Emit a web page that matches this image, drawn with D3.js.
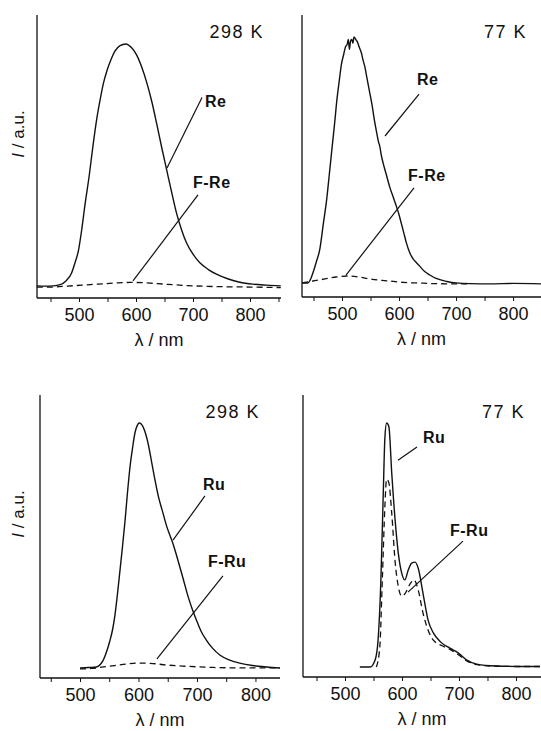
<!DOCTYPE html>
<html><head><meta charset="utf-8">
<script src="https://cdn.jsdelivr.net/npm/d3@7"></script>
<style>
html,body{margin:0;padding:0;background:#fff;}
text{font-family:"Liberation Sans",Arial,sans-serif;fill:#111;}
</style>
</head><body>
<svg id="chart" width="541" height="731"></svg>
<script>
// ---------- DATA (wavelength nm, normalized intensity) ----------
const majorTicks = [500, 600, 700, 800];
const minorTicks = [450, 550, 650, 750, 850];
const xAxisLabel = "λ / nm";
const yAxisLabel = "I / a.u.";

const re298 = [[426,0.005],[440,0.004],[455,0.005],[467,0.01],[477,0.025],[487,0.058],[493,0.1],[499,0.15],[505,0.24],[510,0.33],[518,0.46],[525,0.59],[531,0.69],[537,0.77],[543,0.84],[549,0.89],[556,0.935],[563,0.97],[572,0.993],[582,1.0],[592,0.985],[601,0.955],[610,0.905],[619,0.84],[628,0.76],[636,0.675],[645,0.575],[654,0.48],[663,0.385],[671,0.305],[680,0.235],[689,0.18],[700,0.135],[712,0.1],[727,0.072],[742,0.052],[762,0.033],[782,0.02],[805,0.012],[829,0.008],[854,0.005]];
const fre298 = [[426,0.0],[450,0.0],[480,0.004],[520,0.01],[560,0.016],[590,0.019],[620,0.017],[650,0.012],[690,0.006],[740,0.002],[800,0.0],[854,-0.002]];

const re77 = [[430,0.004],[440,0.004],[445,0.02],[449,0.045],[455,0.09],[461,0.14],[467,0.24],[473,0.34],[478,0.45],[482,0.54],[487,0.65],[491,0.745],[495,0.82],[499,0.89],[503,0.93],[506,0.96],[509,0.97],[511,0.99],[513,0.95],[515,0.985],[517,0.99],[519,0.975],[521,1.0],[524,0.99],[527,0.98],[530,0.96],[534,0.935],[537,0.905],[540,0.88],[544,0.83],[549,0.77],[553,0.72],[557,0.66],[561,0.61],[564,0.575],[566,0.56],[569,0.52],[572,0.49],[578,0.44],[584,0.39],[590,0.35],[596,0.31],[600,0.28],[604,0.245],[608,0.21],[613,0.165],[619,0.125],[625,0.1],[631,0.085],[637,0.07],[645,0.05],[654,0.036],[665,0.022],[684,0.01],[700,0.004],[725,0.001],[760,0.0],[800,0.002],[849,0.0]];
const fre77 = [[430,0.004],[450,0.012],[470,0.02],[490,0.028],[510,0.032],[530,0.028],[549,0.02],[570,0.014],[590,0.01],[608,0.006],[630,0.004],[666,0.001],[720,0.0]];

const ru298 = [[500,0],[515,0.002],[528,0.004],[535,0.015],[540,0.033],[546,0.07],[551,0.11],[556,0.16],[560,0.22],[564,0.3],[568,0.39],[572,0.48],[577,0.6],[581,0.71],[585.5,0.82],[590,0.9],[594,0.96],[598,0.99],[601,1.0],[605,0.995],[611,0.965],[617,0.91],[622.5,0.84],[628,0.77],[634,0.7],[641,0.64],[648,0.58],[654,0.54],[660,0.5],[665,0.46],[671,0.41],[678,0.35],[685,0.29],[692,0.24],[699,0.196],[707,0.15],[716,0.114],[727,0.08],[739,0.053],[755,0.033],[773,0.02],[795,0.01],[819,0.004],[842,0.0]];
const fru298 = [[500,-0.004],[520,-0.002],[540,0.004],[560,0.01],[580,0.016],[600,0.02],[620,0.019],[648,0.012],[680,0.007],[728,0.002],[780,0.0],[842,0.0]];

const ru77 = [[526,0],[544,0],[553,0.03],[558,0.11],[563,0.36],[567,0.7],[570,0.94],[573,1.0],[577,0.985],[582,0.795],[588,0.6],[593.5,0.467],[599.5,0.385],[605,0.357],[611,0.398],[617,0.426],[623,0.43],[628.5,0.405],[637,0.3],[646,0.19],[655,0.14],[667,0.104],[684,0.077],[699,0.057],[713,0.029],[731,0.012],[766,0.004],[807,0.002],[842,0.002]];
const fru77 = [[555,0],[561,0.08],[565.5,0.36],[570,0.66],[573,0.77],[577,0.755],[582,0.63],[588,0.43],[593.5,0.33],[599.5,0.29],[605,0.3],[614,0.34],[621,0.357],[628.5,0.315],[637,0.22],[646,0.15],[655,0.11],[669.5,0.088],[684,0.072],[699,0.05],[713,0.026],[731,0.01],[766,0.003],[807,0.002],[842,0.002]];

// ---------- LAYOUT ----------
const panels = [
  {x0:37, x1:281, yTop:15,  yBot:298, xDom:[426.3,854.4], yDom:[-0.045,1.119],
   solid:re298, dashed:fre298, temp:"298 K", tempPos:[824.6,1.025], yLab:true,
   labels:[{t:"Re", at:[721,0.74], line:[[654.4,0.49],[715.8,0.78]]},
           {t:"F-Re", at:[700,0.407], line:[[708.8,0.379],[594.7,0.025]]}]},
  {x0:302, x1:541, yTop:15, yBot:297, xDom:[429.8,849], yDom:[-0.053,1.089],
   solid:re77, dashed:fre77, temp:"77 K", tempPos:[824.6,0.996], yLab:false,
   labels:[{t:"Re", at:[631.6,0.806], line:[[575.4,0.599],[635.1,0.769]]},
           {t:"F-Re", at:[615.8,0.417], line:[[626.3,0.389],[507,0.036]]}]},
  {x0:40, x1:280, yTop:395, yBot:678, xDom:[431.6,842], yDom:[-0.041,1.114],
   solid:ru298, dashed:fru298, temp:"298 K", tempPos:[807.7,1.02], yLab:true,
   labels:[{t:"Ru", at:[710.3,0.727], line:[[659,0.522],[713.7,0.702]]},
           {t:"F-Ru", at:[718.8,0.412], line:[[744.4,0.376],[631.6,0.037]]}]},
  {x0:303, x1:541, yTop:395, yBot:677, xDom:[426.3,843.9], yDom:[-0.041,1.115],
   solid:ru77, dashed:fru77, temp:"77 K", tempPos:[815.8,1.02], yLab:false,
   labels:[{t:"Ru", at:[636.8,0.918], line:[[593,0.848],[626.3,0.902]]},
           {t:"F-Ru", at:[684.2,0.537], line:[[707,0.516],[610.5,0.307]]}]}
];

const svg = d3.select("#chart");
svg.append("rect").attr("width",541).attr("height",731).attr("fill","#fff");

panels.forEach(p => {
  const x = d3.scaleLinear().domain(p.xDom).range([p.x0, p.x1]);
  const y = d3.scaleLinear().domain(p.yDom).range([p.yBot, p.yTop]);
  const g = svg.append("g");

  const line = d3.line().x(d => x(d[0])).y(d => y(d[1])).curve(d3.curveMonotoneX);

  g.append("path").datum(p.dashed).attr("d", line)
    .attr("fill","none").attr("stroke","#111").attr("stroke-width",1.3)
    .attr("stroke-dasharray","6,4");
  g.append("path").datum(p.solid).attr("d", line)
    .attr("fill","none").attr("stroke","#111").attr("stroke-width",1.4)
    .attr("stroke-linejoin","round");

  // x axes
  const inDom = v => v >= p.xDom[0] && v <= p.xDom[1];
  const axMajor = d3.axisBottom(x).tickValues(majorTicks.filter(inDom)).tickSize(4).tickPadding(6).tickFormat(d3.format("d"));
  const axMinor = d3.axisBottom(x).tickValues(minorTicks.filter(inDom)).tickSize(4).tickFormat("");
  const gx = g.append("g").attr("transform",`translate(0,${p.yBot})`).call(axMajor);
  g.append("g").attr("transform",`translate(0,${p.yBot})`).call(axMinor).select(".domain").remove();
  g.selectAll(".tick line").attr("stroke","#111").attr("stroke-width",1);
  gx.select(".domain").attr("d",`M${p.x0},0H${p.x1}`).attr("stroke","#111").attr("stroke-width",1.3);
  gx.selectAll("text").attr("font-size",18).attr("font-family","Liberation Sans, Arial, sans-serif").attr("fill","#111");

  // y axis line
  g.append("line").attr("x1",p.x0).attr("x2",p.x0).attr("y1",p.yTop).attr("y2",p.yBot)
    .attr("stroke","#111").attr("stroke-width",1.3);

  // axis titles
  g.append("text").attr("x",(p.x0+p.x1)/2).attr("y",p.yBot+48)
    .attr("text-anchor","middle").attr("font-size",18).text(xAxisLabel);
  if (p.yLab) {
    const t = g.append("text").attr("transform",`translate(24,${p.yTop+119}) rotate(-90)`)
      .attr("text-anchor","middle").attr("font-size",17);
    t.append("tspan").attr("font-style","italic").text("I");
    t.append("tspan").text(yAxisLabel.slice(1));
  }

  // temperature label
  g.append("text").attr("x",x(p.tempPos[0])).attr("y",y(p.tempPos[1]))
    .attr("text-anchor","end").attr("font-size",18).attr("letter-spacing",1.5).text(p.temp);

  // series labels and leader lines
  p.labels.forEach(l => {
    g.append("line").attr("x1",x(l.line[0][0])).attr("y1",y(l.line[0][1]))
      .attr("x2",x(l.line[1][0])).attr("y2",y(l.line[1][1]))
      .attr("stroke","#111").attr("stroke-width",1.2);
    g.append("text").attr("x",x(l.at[0])).attr("y",y(l.at[1]))
      .attr("font-size",16).attr("font-weight","bold").attr("letter-spacing",0.5).text(l.t);
  });
});
</script>
</body></html>
